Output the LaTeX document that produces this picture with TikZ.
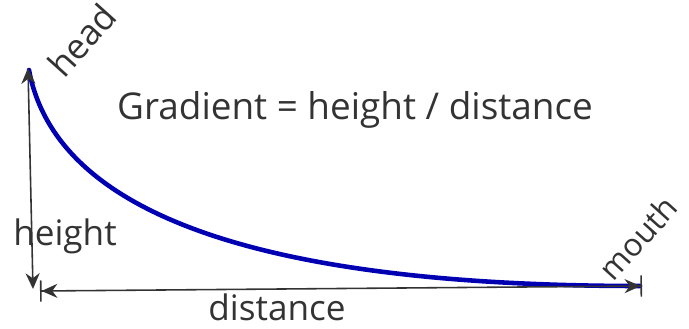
\documentclass[tikz,border=0pt]{standalone}
\usepackage{fontspec}
\setmainfont{Open Sans}
\usetikzlibrary{arrows.meta}

\begin{document}
\begin{tikzpicture}[
    x=0.02cm, y=-0.02cm,
    riverline/.style={draw=blue!70!black, line width=2.6pt, line cap=round},
    dimarrow/.style={line width=0.9pt, black!80},
    lbl/.style={font=\fontsize{20}{24}\selectfont, text=black!80, inner sep=1pt},
    biglbl/.style={font=\fontsize{21}{25}\selectfont, text=black!80, inner sep=1pt},
]
\useasboundingbox (0,0) rectangle (689,328);
% end points
\coordinate (headpt) at (29,70);
\coordinate (mouthpt) at (640,286);
\coordinate (vtop) at (28,68);
\coordinate (vbot) at (33,289);
\coordinate (hleft) at (40,291);
\coordinate (hright) at (642,286);
% long profile
\draw[riverline] (headpt) .. controls (55,210) and (250,286) .. (mouthpt);
% height and distance
\draw[dimarrow, {Stealth[length=9pt,width=8pt]}-{Stealth[length=9pt,width=8pt]}] (vtop) -- (vbot);
\draw[dimarrow, {Bar[width=12pt]Stealth[length=9pt,width=8pt]}-{Stealth[length=9pt,width=8pt]Bar[width=12pt]}] (hleft) -- (hright);
% labels
\node[lbl, rotate=48] (headlbl) at (82,40) {head};
\node[lbl, rotate=48, font=\fontsize{18}{22}\selectfont] (mouthlbl) at (638,238) {mouth};
\node[lbl] (heightlbl) at (65,236) {height};
\node[lbl] (distlbl) at (277,307) {distance};
\node[biglbl] (gradlbl) at (355,110) {Gradient = height / distance};
\end{tikzpicture}
\end{document}
